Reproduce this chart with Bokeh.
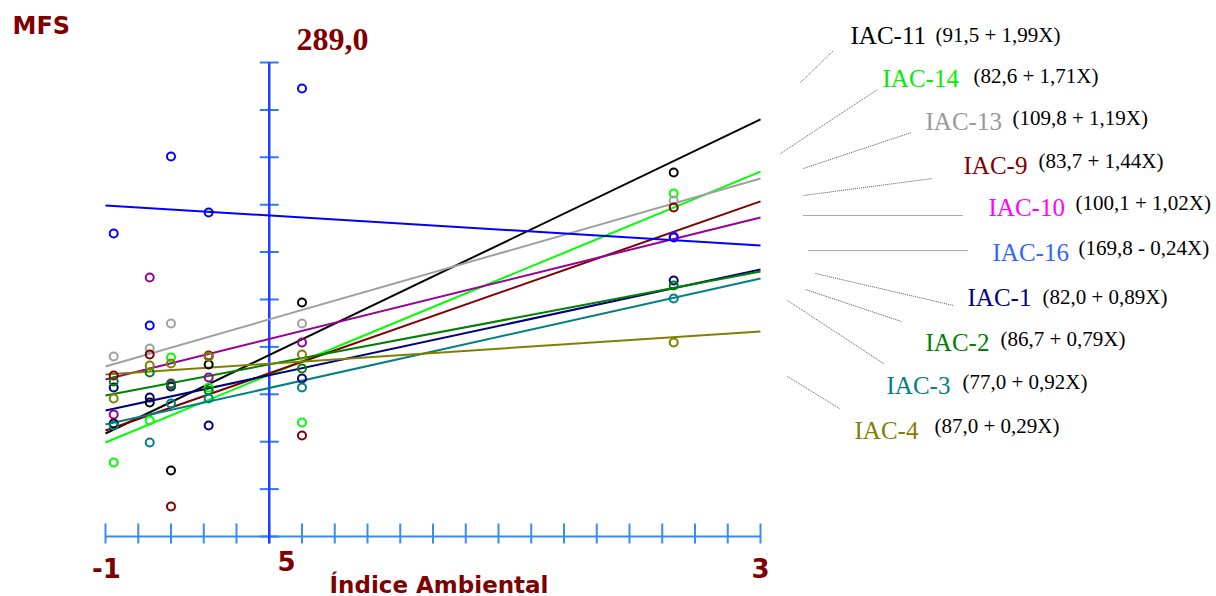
import numpy as np
from bokeh.plotting import figure
from bokeh.models import Range1d
from bokeh.core.properties import value
from bokeh.embed import file_html
from bokeh.resources import INLINE

# ---------------- data ----------------
genotypes = ["IAC-11", "IAC-14", "IAC-13", "IAC-9", "IAC-10",
             "IAC-16", "IAC-1", "IAC-2", "IAC-3", "IAC-4"]
equations = ["(91,5 + 1,99X)", "(82,6 + 1,71X)", "(109,8 + 1,19X)", "(83,7 + 1,44X)",
             "(100,1 + 1,02X)", "(169,8 - 0,24X)", "(82,0 + 0,89X)", "(86,7 + 0,79X)",
             "(77,0 + 0,92X)", "(87,0 + 0,29X)"]

# environmental index of the six environments
env_index = [-0.95, -0.73, -0.60, -0.37, 0.20, 2.47]

# MFS observed per genotype (one value per environment)
mfs_iac11 = [68.9, 81.7, 40.2, 104.9, 142.7, 221.9]
mfs_iac14 = [45.1, 70.7, 109.1, 90.8, 69.5, 209.1]
mfs_iac13 = [109.7, 114.6, 129.9, 109.7, 129.9, 204.9]
mfs_iac9 = [98.2, 111.0, 18.3, 110.4, 61.6, 200.6]
mfs_iac10 = [74.4, 157.9, 93.3, 96.9, 118.3, 182.9]
mfs_iac16 = [184.7, 128.6, 231.7, 197.5, 273.2, 182.3]
mfs_iac1 = [90.8, 84.8, 91.5, 67.7, 96.3, 156.1]
mfs_iac2 = [94.5, 100.0, 92.7, 89.0, 102.4, 153.0]
mfs_iac3 = [67.7, 57.3, 81.1, 84.1, 90.8, 145.1]
mfs_iac4 = [84.1, 104.3, 105.5, 109.7, 111.0, 118.3]
observed = [mfs_iac11, mfs_iac14, mfs_iac13, mfs_iac9, mfs_iac10,
            mfs_iac16, mfs_iac1, mfs_iac2, mfs_iac3, mfs_iac4]

# fitted response line: value at index -1 and at index 3
line_x = [-1, 3]
fit_at_min = [62.8, 57.3, 103.7, 64.6, 95.7, 201.8, 76.8, 86.0, 68.3, 98.8]
fit_at_max = [254.3, 222.5, 218.3, 204.3, 194.5, 177.4, 162.8, 161.6, 157.3, 125.0]

x_min, x_max = -1, 3
y_min, y_max = 0, 289.0
x_tick_labels = ["-1", "5", "3"]

# ---------------- styles ----------------
line_colors = ["#000000", "#00FF00", "#A0A0A0", "#800000", "#990099",
               "#0000FF", "#000080", "#008000", "#008080", "#808000"]
label_colors = ["#000000", "#00EE00", "#999999", "#800000", "#FF00FF",
                "#3366FF", "#000080", "#008000", "#008080", "#808000"]
dark_red = "#800000"

# ---------------- layout helpers (picture pixels -> data) ----------------
W, H = 1216, 596
OFF = 0                            # canvas offset in the picture
PX_XMIN, PX_XMAX = 105.0, 760.0   # picture px of x_min, x_max
PX_Y0, PX_YTOP = 536.0, 62.0      # picture px of y_min, y_max


def dx(X):
    return x_min + (X - PX_XMIN) * (x_max - x_min) / (PX_XMAX - PX_XMIN)


def dy(Y):
    return y_min + (PX_Y0 - Y) * (y_max - y_min) / (PX_Y0 - PX_YTOP)


p = figure(width=W, height=H, output_backend="svg", toolbar_location=None,
           x_range=Range1d(dx(OFF), dx(OFF + W)), y_range=Range1d(dy(OFF + H), dy(OFF)),
           x_axis_location=None, y_axis_location=None, min_border=0)
p.grid.grid_line_color = None
p.outline_line_color = None
p.background_fill_color = "white"
p.border_fill_color = "white"

# ---------------- axes (drawn by hand, crossing in the plot) ----------------
x_ticks = np.round(np.arange(x_min, x_max + 1e-9, 0.2), 3)
y_ticks = np.linspace(y_min, y_max, 11)
xaxis_col = "#3A8CF0"
yaxis_col = "#2040FF"
ytick_col = "#3377FF"

p.segment(x0=[x_min], y0=[y_min], x1=[x_max], y1=[y_min], line_color=xaxis_col, line_width=2)
p.segment(x0=x_ticks, y0=[dy(PX_Y0 + 7)] * len(x_ticks), x1=x_ticks,
          y1=[dy(PX_Y0 - 13)] * len(x_ticks), line_color=xaxis_col, line_width=2)
half = dx(PX_XMIN + 9.5) - dx(PX_XMIN)
p.segment(x0=[-half] * len(y_ticks), y0=y_ticks, x1=[half] * len(y_ticks), y1=y_ticks,
          line_color=ytick_col, line_width=2)
p.segment(x0=[0], y0=[dy(PX_Y0 + 7)], x1=[0], y1=[y_max], line_color=yaxis_col, line_width=2.5)

# ---------------- fitted lines and observations ----------------
for i in range(len(genotypes)):
    p.line(x=line_x, y=[fit_at_min[i], fit_at_max[i]], line_color=line_colors[i], line_width=2)
for i in range(len(genotypes)):
    p.scatter(x=env_index, y=observed[i], marker="circle", size=8, fill_color=None,
              line_color=line_colors[i], line_width=2)

# ---------------- texts (y = vertical middle of the glyphs) ----------------
sans_bold = value("DejaVu Sans")
serif = value("Liberation Serif")

p.text(x=[dx(12)], y=[dy(25)], text=["MFS"], text_font=sans_bold, text_font_style="bold",
       text_font_size=value("24px"), text_color=dark_red, text_baseline="middle")
p.text(x=[dx(296)], y=[dy(39)], text=[f"{y_max:.1f}".replace(".", ",")], text_font=serif,
       text_font_style="bold", text_font_size=value("32px"), text_color=dark_red,
       text_baseline="middle")

tick_label_px = [(106, 567), (286, 560), (760, 567)]
for lab, (X, Y) in zip(x_tick_labels, tick_label_px):
    p.text(x=[dx(X)], y=[dy(Y)], text=[lab], text_font=sans_bold, text_font_style="bold",
           text_font_size=value("26px"), text_color=dark_red, text_align="center",
           text_baseline="middle")
p.text(x=[dx(329)], y=[dy(584)], text=["Índice Ambiental"], text_font=sans_bold,
       text_font_style="bold", text_font_size=value("23px"), text_color=dark_red,
       text_baseline="middle")

# legend labels: (name x, name middle, equation x, equation middle)
label_pos = [(850, 35, 935, 34), (882, 78, 973, 75), (925, 121, 1012, 117),
             (963, 165, 1038, 160), (988, 207, 1075, 202), (992, 252, 1078, 247),
             (967, 297, 1042, 296), (925, 342, 1000, 338), (886, 385, 962, 381),
             (854, 430, 934, 425)]
leaders = [(800, 82, 833, 50), (780, 153, 877, 89), (803, 168, 911, 132),
           (803, 195, 932, 178), (803, 215, 963, 215), (808, 250, 968, 250),
           (815, 273, 953, 305), (805, 289, 901, 321), (787, 300, 883, 363),
           (787, 376, 839, 408)]
for i in range(len(genotypes)):
    nx, ny, ex, ey = label_pos[i]
    p.text(x=[dx(nx)], y=[dy(ny)], text=[genotypes[i]], text_font=serif,
           text_font_size=value("25px"), text_color=label_colors[i], text_baseline="middle")
    p.text(x=[dx(ex)], y=[dy(ey)], text=[equations[i]], text_font=serif,
           text_font_size=value("21px"), text_color="#000000", text_baseline="middle")
    x0, y0, x1, y1 = leaders[i]
    p.segment(x0=[dx(x0)], y0=[dy(y0)], x1=[dx(x1)], y1=[dy(y1)], line_color="#555555",
              line_width=1, line_dash="1 1")

open("out.html", "w").write(file_html(p, INLINE))
